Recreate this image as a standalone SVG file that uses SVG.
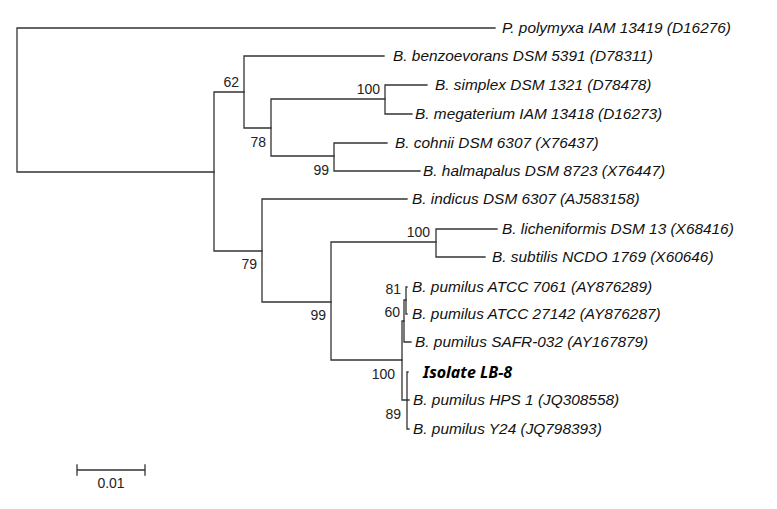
<svg xmlns="http://www.w3.org/2000/svg" width="777" height="509" viewBox="0 0 777 509">
<style>
.br{fill:none;stroke:#333;stroke-width:1.3;stroke-linecap:square}
.lf{font-family:"Liberation Sans",Arial,sans-serif;font-style:italic;font-size:15.4px;fill:#111}
.iso{font-family:"Noto Sans","Open Sans",sans-serif;font-style:italic;font-weight:bold;font-size:16px;fill:#000}
.bs{font-family:"Liberation Sans",Arial,sans-serif;font-size:14px;fill:#222;text-anchor:end}
.sc{font-family:"Liberation Sans",Arial,sans-serif;font-size:14px;fill:#222;text-anchor:middle}
</style>
<rect width="777" height="509" fill="#fff"/>
<g id="connectors" class="br">
<path d="M17,28V172M17,28H495M17,172H214"/>
<path d="M214,92V251M214,92H244M214,251H262"/>
<path d="M244,56V128M244,56H384M244,128H271"/>
<path d="M271,99V156M271,99H385M271,156H334"/>
<path d="M385,85V114M385,85H427M385,114H412"/>
<path d="M334,143V171M334,143H387M334,171H420"/>
<path d="M262,199V302M262,199H407M262,302H331"/>
<path d="M331,242V360M331,242H436M331,360H402"/>
<path d="M436,229V257M436,229H497M436,257H485"/>
<path d="M402,321V400M402,321H404M402,400H407"/>
<path d="M404,300V342M404,300H406M404,342H411"/>
<path d="M406,287V314M406,287H407M406,314H407"/>
<path d="M407,372V429M407,372H408M407,400H409M407,429H409"/>
</g>
<g id="n-polymyxa"><text class="lf" x="502" y="33">P. polymyxa IAM 13419 (D16276)</text></g>
<g id="n-benzoevorans"><text class="lf" x="393" y="61">B. benzoevorans DSM 5391 (D78311)</text></g>
<g id="n-simplex"><text class="lf" x="435" y="90">B. simplex DSM 1321 (D78478)</text></g>
<g id="n-megaterium"><text class="lf" x="415" y="119">B. megaterium IAM 13418 (D16273)</text></g>
<g id="n-cohnii"><text class="lf" x="395" y="148">B. cohnii DSM 6307 (X76437)</text></g>
<g id="n-halmapalus"><text class="lf" x="423" y="176">B. halmapalus DSM 8723 (X76447)</text></g>
<g id="n-indicus"><text class="lf" x="412" y="204">B. indicus DSM 6307 (AJ583158)</text></g>
<g id="n-licheniformis"><text class="lf" x="502" y="234">B. licheniformis DSM 13 (X68416)</text></g>
<g id="n-subtilis"><text class="lf" x="492" y="262">B. subtilis NCDO 1769 (X60646)</text></g>
<g id="n-atcc7061"><text class="lf" x="412" y="292">B. pumilus ATCC 7061 (AY876289)</text></g>
<g id="n-atcc27142"><text class="lf" x="412" y="319">B. pumilus ATCC 27142 (AY876287)</text></g>
<g id="n-safr"><text class="lf" x="415" y="347">B. pumilus SAFR-032 (AY167879)</text></g>
<g id="n-isolate"><text class="iso" x="423" y="378">Isolate LB-8</text></g>
<g id="n-hps1"><text class="lf" x="413" y="405">B. pumilus HPS 1 (JQ308558)</text></g>
<g id="n-y24"><text class="lf" x="413" y="434">B. pumilus Y24 (JQ798393)</text></g>
<g id="support">
<text class="bs" x="239" y="87">62</text>
<text class="bs" x="266" y="147">78</text>
<text class="bs" x="380" y="94">100</text>
<text class="bs" x="329" y="175">99</text>
<text class="bs" x="257" y="269">79</text>
<text class="bs" x="430" y="237">100</text>
<text class="bs" x="326" y="320">99</text>
<text class="bs" x="401" y="294">81</text>
<text class="bs" x="400" y="317">60</text>
<text class="bs" x="395" y="379">100</text>
<text class="bs" x="401" y="419">89</text>
</g>
<g id="scale">
<path class="br" d="M77,470H145M77,465V475M145,465V475"/>
<text class="sc" x="111" y="488">0.01</text>
</g>
</svg>
